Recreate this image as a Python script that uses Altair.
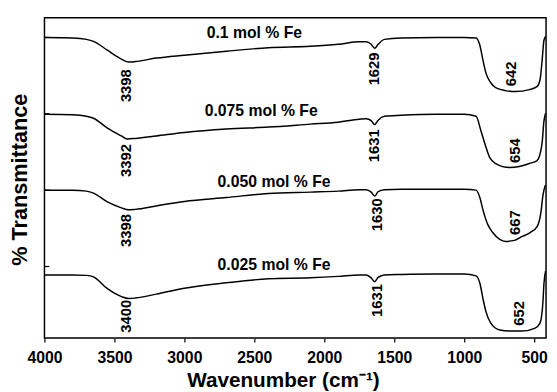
import altair as alt
import pandas as pd

FONT = "Liberation Sans"

# ---- spectra (wavenumber in cm-1, offset transmittance in arbitrary units) ----
A_wn = [4000, 3800, 3700, 3650, 3550, 3450, 3400, 3350, 3200, 3000, 2700, 2400, 2100, 1900, 1750, 1700,
        1665, 1640, 1615, 1570, 1450, 1200, 1000, 915, 890, 866, 845, 810, 775, 704, 634, 535, 480, 458,
        444, 430, 418]
A_t = [124, 123.8, 123.2, 122.4, 118.8, 115.2, 114, 114.2, 115.6, 116.8, 118.4, 119.8, 120.4, 121.2, 122.2, 122.2,
       121.2, 119.6, 121.2, 123.2, 123.8, 124, 124, 123.8, 121.2, 114.8, 109.6, 105.6, 103.6, 102.4, 102, 102.8, 104, 106.8,
       114, 122.8, 124.4]

B_wn = [4000, 3800, 3700, 3650, 3550, 3450, 3410, 3350, 3200, 3000, 2700, 2400, 2100, 1900, 1750, 1700,
        1665, 1640, 1615, 1570, 1450, 1200, 1000, 915, 880, 852, 817, 775, 676, 606, 535, 479, 444, 430, 418]
B_t = [92.8, 92.6, 92, 91.2, 87.2, 84, 82.8, 83, 84, 85.4, 86.8, 87.6, 88.8, 89.6, 90.8, 91,
       90.2, 88.6, 90.4, 92, 92.4, 92.8, 92.8, 92, 86, 80.8, 75.2, 72.8, 71.2, 71.6, 72.8, 74, 80.8, 90, 93.2]

C_wn = [4000, 3800, 3700, 3650, 3550, 3450, 3400, 3350, 3200, 3000, 2700, 2400, 2100, 1900, 1750, 1700,
        1665, 1640, 1615, 1570, 1450, 1200, 1000, 915, 887, 866, 831, 796, 746, 704, 641, 585, 528, 479,
        451, 437, 420]
C_t = [62, 62, 61.6, 60.8, 57.2, 54.8, 54, 54.2, 55.6, 57.4, 59, 60.6, 61.2, 61.6, 62.2, 62.2,
       61.2, 59.6, 61.4, 62.2, 62.4, 62.4, 62.4, 62, 58.8, 54, 48, 44.8, 42, 41.2, 41.6, 43.2, 44.8, 47.2,
       53.2, 60, 64]

D_wn = [4000, 3800, 3700, 3650, 3550, 3450, 3400, 3350, 3200, 3000, 2700, 2400, 2100, 1900, 1750, 1700,
        1665, 1640, 1615, 1570, 1450, 1200, 1000, 915, 887, 866, 845, 810, 746, 676, 585, 493, 458, 437,
        430, 418]
D_t = [27.6, 27.6, 27.4, 26.8, 22, 18.8, 18, 18.2, 19.8, 22.2, 24.4, 26, 26.4, 27, 27.6, 27.6,
       26.4, 24.8, 26.6, 27.6, 27.8, 28, 28, 27.2, 24, 18, 12.8, 8, 5.2, 4.8, 4.8, 6, 8, 16.8,
       24, 29.2]

series_names = ["0.1 mol % Fe", "0.075 mol % Fe", "0.050 mol % Fe", "0.025 mol % Fe"]
series_label_wn = [2500, 2451, 2359, 2359]
series_label_t = [125.6, 94, 65.2, 31.6]

peak_text = ["3398", "3392", "3398", "3400", "1629", "1631", "1630", "1631", "642", "654", "667", "652"]
peak_wn = [3415, 3415, 3415, 3415, 1641, 1641, 1620, 1620, 662, 634, 634, 606]
peak_t = [104.4, 74, 45.6, 10.8, 111.2, 80, 52, 17.2, 109.2, 78, 48.8, 12]

y_ticks = [31, 62, 93, 124]
x_ticks = [4000, 3750, 3500, 3250, 3000, 2750, 2500, 2250, 2000, 1750, 1500, 1250, 1000, 750, 500]

rows = []
for name, wn, t in zip(series_names, [A_wn, B_wn, C_wn, D_wn], [A_t, B_t, C_t, D_t]):
    for w, v in zip(wn, t):
        rows.append({"series": name, "wn": w, "t": v})
spec = pd.DataFrame(rows)

labels = pd.DataFrame({"text": series_names, "wn": series_label_wn, "t": series_label_t})
peaks = pd.DataFrame({"text": peak_text, "wn": peak_wn, "t": peak_t})
yt = pd.DataFrame({"t": y_ticks})

xscale = alt.Scale(domain=[4000, 415], nice=False, zero=False)
yscale = alt.Scale(domain=[2, 132], nice=False, zero=False)

xaxis = alt.Axis(
    values=x_ticks, format="d",
    labelExpr="datum.value % 500 === 0 ? datum.label : ''",
    domain=False, grid=False, tickSize=4, tickColor="black", tickWidth=1.2,
    labelFont=FONT, labelFontSize=16, labelFontWeight="bold", labelColor="black",
    labelPadding=21, labelBaseline="alphabetic", labelFlush=False, labelOverlap=False, labelBound=False,
    title="Wavenumber (cm⁻¹)", titleFont=FONT, titleFontSize=21, titleFontWeight="bold",
    titleColor="black", titleX=242, titleY=49, titleBaseline="alphabetic", titleAlign="center",
)
yaxis = alt.Axis(
    ticks=False, labels=False, domain=False, grid=False,
    title="% Transmittance", titleFont=FONT, titleFontSize=22, titleFontWeight="bold",
    titleColor="black", titleX=-18, titleY=164, titleAngle=270, titleBaseline="alphabetic",
    titleAlign="center",
)

lines = alt.Chart(spec).mark_line(color="black", strokeWidth=1.5, interpolate="monotone", clip=True).encode(
    x=alt.X("wn:Q", scale=xscale, axis=xaxis),
    y=alt.Y("t:Q", scale=yscale, axis=yaxis),
    detail="series:N",
    order=alt.Order("wn:Q", sort="descending"),
)

ticks = alt.Chart(yt).mark_rule(color="black", strokeWidth=1.2).encode(
    y=alt.Y("t:Q", scale=yscale),
    x=alt.value(0), x2=alt.value(5),
)

series_text = alt.Chart(labels).mark_text(
    font=FONT, fontSize=16, fontWeight="bold", color="black", align="center", baseline="middle"
).encode(x=alt.X("wn:Q", scale=xscale), y=alt.Y("t:Q", scale=yscale), text="text:N")

peak_labels = alt.Chart(peaks).mark_text(
    font=FONT, fontSize=15, fontWeight="bold", color="black", align="center", baseline="middle", angle=270
).encode(x=alt.X("wn:Q", scale=xscale), y=alt.Y("t:Q", scale=yscale), text="text:N")

chart = alt.layer(lines, ticks, series_text, peak_labels).properties(
    width=509, height=325,
    padding={"left": 37, "top": 7, "right": 3, "bottom": 52},
    autosize="none",
    background="white",
).configure_view(stroke="black", strokeWidth=1.5)

chart.save("out.html", embed_options={"renderer": "svg", "actions": False})
